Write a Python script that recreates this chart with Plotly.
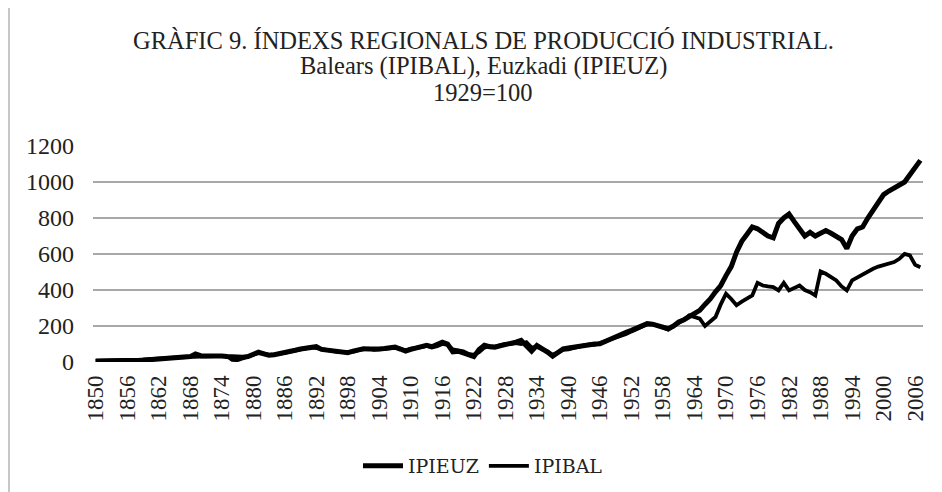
import plotly.graph_objects as go

years = list(range(1850, 2008))

ipieuz = [
    5, 5, 6, 6, 7, 7, 8, 8, 9, 10,
    12, 14, 16, 18, 20, 22, 24, 26, 30, 45,
    35, 33, 34, 35, 33, 30, 28, 25, 27, 30,
    40, 55, 45, 38, 40, 45, 48, 55, 65, 72,
    78, 80, 85, 70, 65, 60, 58, 55, 52, 60,
    70, 74, 72, 70, 72, 75, 80, 83, 72, 60,
    70, 80, 88, 93, 85, 95, 110, 100, 56, 60,
    50, 40, 30, 70, 93, 85, 82, 90, 95, 100,
    110, 120, 90, 60, 92, 75, 55, 32, 50, 73,
    78, 82, 88, 95, 101, 100, 101, 115, 129, 140,
    150, 165, 176, 190, 205, 213, 210, 204, 195, 185,
    200, 222, 235, 250, 268, 287, 320, 350, 390, 425,
    480, 530, 610, 670, 710, 750, 740, 720, 700, 690,
    770, 800, 822, 780, 740, 700, 720, 700, 715, 730,
    715, 700, 680, 630, 700, 740, 750, 800, 845, 885,
    930, 950, 965, 985, 1000, 1040, 1080, 1120,
]

ipibal = [
    6, 6, 7, 7, 8, 9, 10, 11, 12, 13,
    15, 17, 19, 20, 22, 24, 26, 27, 28, 32,
    34, 35, 36, 35, 34, 32, 12, 10, 20, 28,
    35, 50, 48, 40, 42, 44, 50, 58, 62, 68,
    75, 82, 78, 72, 68, 62, 56, 58, 55, 58,
    66, 70, 74, 68, 70, 72, 76, 78, 74, 65,
    75, 78, 82, 90, 80, 88, 100, 95, 70, 65,
    60, 45, 40, 55, 80, 88, 85, 92, 100, 100,
    105, 100, 110, 80, 85, 70, 60, 40, 55, 68,
    70, 80, 85, 92, 98, 95, 105, 110, 120, 135,
    140, 155, 170, 185, 200, 210, 212, 200, 190, 180,
    200, 215, 235, 259, 250, 241, 200, 225, 250, 320,
    379, 350, 315, 335, 351, 370, 440, 425, 420, 416,
    398, 440, 398, 410, 425, 400, 388, 370, 503, 490,
    470, 453, 420, 398, 453, 470, 490, 505, 518, 530,
    540, 545, 555, 573, 601, 592, 540, 527,
]

tick_years = list(range(1850, 2007, 6))
y_ticks = [0, 200, 400, 600, 800, 1000, 1200]

title_lines = [
    "GRÀFIC 9. ÍNDEXS REGIONALS DE PRODUCCIÓ INDUSTRIAL.",
    "Balears (IPIBAL), Euzkadi (IPIEUZ)",
    "1929=100",
]

# the page body adds an 8px offset; figure coordinates = screen - 8
OFF = 8
W, H = 942 - OFF, 492 - OFF
L, R, T, B = 93 - OFF, 923 - OFF, 146 - OFF, 362 - OFF

def px_x(p):
    return (p - OFF - L) / (R - L)

def px_y(p):
    return (B - (p - OFF)) / (B - T)

serif = "Liberation Serif"

fig = go.Figure()
fig.add_trace(go.Scatter(x=years, y=ipieuz, mode="lines", name="IPIEUZ",
                         line=dict(color="black", width=5)))
fig.add_trace(go.Scatter(x=years, y=ipibal, mode="lines", name="IPIBAL",
                         line=dict(color="black", width=3.8)))

for txt, yc in zip(title_lines, [40, 66, 92]):
    fig.add_annotation(text=txt, xref="paper", yref="paper",
                       x=px_x(483), y=px_y(yc), xanchor="center", yanchor="middle",
                       showarrow=False, font=dict(family=serif, size=24.5, color="#222"))

fig.add_shape(type="line", xref="paper", yref="paper",
              x0=px_x(9), x1=px_x(9), y0=px_y(8), y1=px_y(492),
              line=dict(color="#b5b5b5", width=1.5))

fig.update_layout(
    width=W, height=H,
    margin=dict(l=L, r=W - R, t=T, b=H - B, pad=0, autoexpand=False),
    paper_bgcolor="white", plot_bgcolor="white",
    showlegend=True,
    legend=dict(orientation="h", x=px_x(483), y=px_y(466), xanchor="center", yanchor="middle",
                font=dict(family="DejaVu Serif", size=19, color="#222"),
                itemwidth=40, bgcolor="rgba(0,0,0,0)"),
)
fig.update_xaxes(range=[1849.5, 2007.5], tickmode="array", tickvals=tick_years,
                 ticktext=[str(t) for t in tick_years], tickangle=-90,
                 showgrid=False, zeroline=False, showline=False, ticks="",
                 automargin=False, ticklabelstandoff=8,
                 tickfont=dict(family=serif, size=23, color="#222"))
fig.update_yaxes(range=[0, 1200], tickmode="array", tickvals=y_ticks,
                 showgrid=True, gridcolor="#a8a8a8", gridwidth=1.5,
                 zeroline=False, showline=False, ticks="",
                 automargin=False, ticklabelstandoff=18,
                 tickfont=dict(family=serif, size=24, color="#222"))

fig.write_html("out.html")
